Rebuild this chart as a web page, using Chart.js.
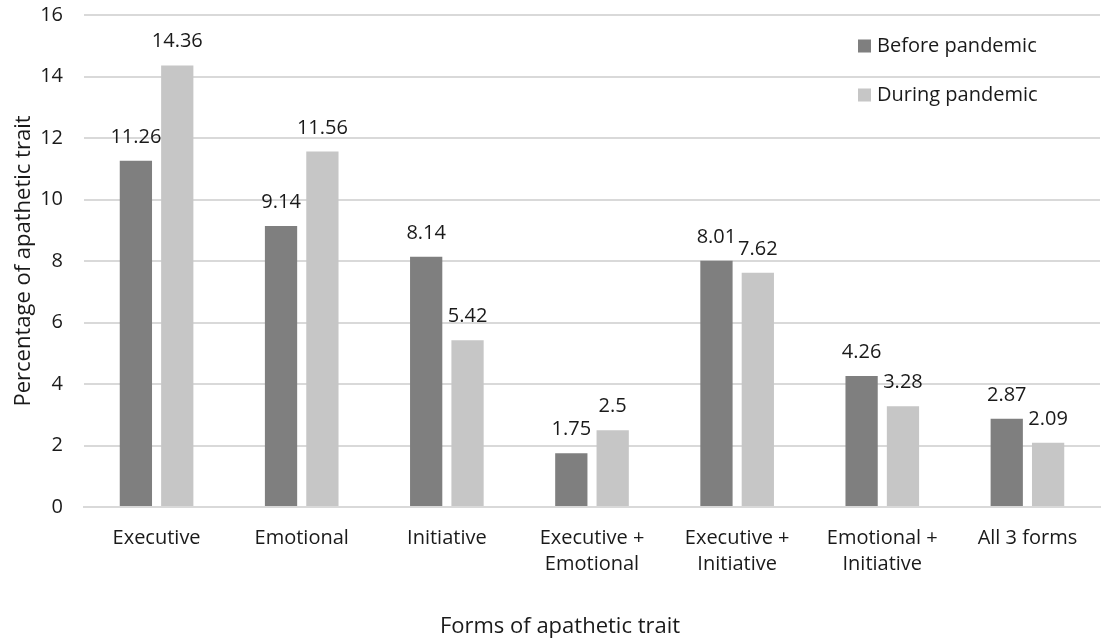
<!DOCTYPE html>
<html>
<head>
<meta charset="utf-8">
<script src="https://cdn.jsdelivr.net/npm/chart.js@4.4.1/dist/chart.umd.min.js"></script>
<style>
  html, body { margin: 0; padding: 0; background: #fff; }
  #wrap { width: 1104px; height: 640px; }
</style>
</head>
<body>
<div id="wrap"><canvas id="c" width="1104" height="640"></canvas></div>
<script>
// データ
const categories = [
    'Executive', 'Emotional', 'Initiative',
    ['Executive +', 'Emotional'], ['Executive +', 'Initiative'], ['Emotional +', 'Initiative'],
    'All 3 forms'
];
const beforeValues = [11.26, 9.14, 8.14, 1.75, 8.01, 4.26, 2.87];
const duringValues = [14.36, 11.56, 5.42, 2.5, 7.62, 3.28, 2.09];
const yTicks = [0, 2, 4, 6, 8, 10, 12, 14, 16];
const xTitle = 'Forms of apathetic trait';
const yTitle = 'Percentage of apathetic trait';

const FONT = '"Open Sans", sans-serif';
const TXT = '#1a1a1a';

// 値ラベル
const valueLabels = {
    id: 'valueLabels',
    afterDatasetsDraw(chart) {
        const ctx = chart.ctx;
        ctx.save();
        ctx.font = '20px ' + FONT;
        ctx.fillStyle = TXT;
        ctx.textAlign = 'center';
        ctx.textBaseline = 'alphabetic';
        chart.data.datasets.forEach((ds, i) => {
            chart.getDatasetMeta(i).data.forEach((bar, j) => {
                ctx.fillText(String(ds.data[j]), bar.x, bar.y - 18);
            });
        });
        ctx.restore();
    }
};

// 凡例（プロット内右上）と X 軸タイトル
const extras = {
    id: 'extras',
    afterDraw(chart) {
        const ctx = chart.ctx;
        ctx.save();
        ctx.font = '20px ' + FONT;
        ctx.textBaseline = 'middle';
        ctx.textAlign = 'left';
        chart.data.datasets.forEach((ds, i) => {
            const y = 46 + i * 49;
            ctx.fillStyle = ds.backgroundColor;
            ctx.fillRect(858, y - 6.5, 13, 13);
            ctx.fillStyle = TXT;
            ctx.fillText(ds.label, 877, y);
        });
        ctx.font = '22px ' + FONT;
        ctx.textAlign = 'center';
        ctx.fillText(xTitle, 560, 627);
        ctx.restore();
    }
};

new Chart(document.getElementById('c'), {
    type: 'bar',
    data: {
        labels: categories,
        datasets: [
            { label: 'Before pandemic', data: beforeValues, backgroundColor: '#7f7f7f' },
            { label: 'During pandemic', data: duringValues, backgroundColor: '#c6c6c6' }
        ]
    },
    options: {
        responsive: false,
        animation: false,
        layout: { padding: { top: 15, right: 4, left: 0, bottom: 0 } },
        datasets: { bar: { categoryPercentage: 0.57, barPercentage: 0.78 } },
        plugins: {
            legend: { display: false },
            tooltip: { enabled: false },
            title: { display: false }
        },
        scales: {
            x: {
                grid: { display: false },
                border: { color: '#d9d9d9', width: 2 },
                ticks: {
                    color: TXT,
                    font: { family: FONT, size: 20, lineHeight: 1.3 },
                    maxRotation: 0,
                    autoSkip: false,
                    padding: 10
                },
                afterFit(scale) {
                    scale.height = 133;
                    scale.paddingLeft = 0;
                    scale.paddingRight = 0;
                }
            },
            y: {
                min: 0,
                max: 16,
                afterBuildTicks(scale) { scale.ticks = yTicks.map(v => ({ value: v })); },
                grid: { color: '#d9d9d9', lineWidth: 2, drawTicks: false },
                border: { display: false },
                ticks: {
                    color: TXT,
                    font: { family: FONT, size: 20 },
                    padding: 21
                },
                title: {
                    display: true,
                    text: yTitle,
                    color: TXT,
                    font: { family: FONT, size: 22, weight: 'normal' },
                    padding: { top: 11, bottom: 0 }
                },
                afterFit(scale) {
                    scale.width = 84;
                    scale.paddingTop = 0;
                    scale.paddingBottom = 0;
                }
            }
        }
    },
    plugins: [valueLabels, extras]
});
</script>
</body>
</html>
